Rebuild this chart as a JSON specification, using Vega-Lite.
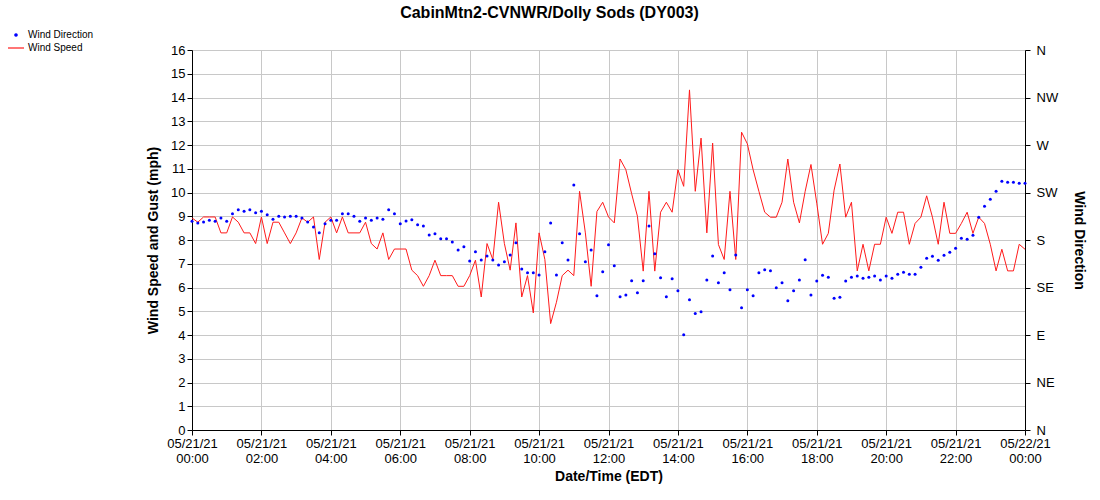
{
  "$schema": "https://vega.github.io/schema/vega-lite/v6.json",
  "autosize": "none",
  "width": 833,
  "height": 380,
  "padding": {"left": 192, "top": 50, "right": 75, "bottom": 70},
  "background": "white",
  "title": {
    "text": "CabinMtn2-CVNWR/Dolly Sods (DY003)",
    "font": "Liberation Sans",
    "fontSize": 16,
    "fontWeight": "bold",
    "color": "black",
    "anchor": "middle",
    "dx": -59,
    "offset": 9
  },
  "config": {
    "view": {"stroke": null},
    "font": "Liberation Sans",
    "axis": {
      "labelFont": "Liberation Sans",
      "labelFontSize": 13,
      "labelColor": "black",
      "titleFont": "Liberation Sans",
      "titleFontSize": 14,
      "titleFontWeight": "bold",
      "titleColor": "black",
      "domainColor": "black",
      "tickColor": "black",
      "gridColor": "#c8c8c8",
      "gridWidth": 1
    }
  },
  "data": {
    "values": [
      {"t": "2021-05-21T00:00Z", "speed": 8.93, "dir": 197.8},
      {"t": "2021-05-21T00:10Z", "speed": 8.75, "dir": 196.2},
      {"t": "2021-05-21T00:20Z", "speed": 8.97, "dir": 197.1},
      {"t": "2021-05-21T00:30Z", "speed": 8.97, "dir": 198.7},
      {"t": "2021-05-21T00:40Z", "speed": 8.97, "dir": 197.8},
      {"t": "2021-05-21T00:50Z", "speed": 8.3, "dir": 200.9},
      {"t": "2021-05-21T01:00Z", "speed": 8.3, "dir": 197.8},
      {"t": "2021-05-21T01:10Z", "speed": 8.97, "dir": 204.8},
      {"t": "2021-05-21T01:20Z", "speed": 8.75, "dir": 208.6},
      {"t": "2021-05-21T01:30Z", "speed": 8.3, "dir": 207.2},
      {"t": "2021-05-21T01:40Z", "speed": 8.3, "dir": 208.6},
      {"t": "2021-05-21T01:50Z", "speed": 7.85, "dir": 205.7},
      {"t": "2021-05-21T02:00Z", "speed": 8.97, "dir": 207.2},
      {"t": "2021-05-21T02:10Z", "speed": 7.85, "dir": 203.9},
      {"t": "2021-05-21T02:20Z", "speed": 8.75, "dir": 199.6},
      {"t": "2021-05-21T02:30Z", "speed": 8.75, "dir": 202.5},
      {"t": "2021-05-21T02:40Z", "speed": 8.3, "dir": 201.8},
      {"t": "2021-05-21T02:50Z", "speed": 7.85, "dir": 202.5},
      {"t": "2021-05-21T03:00Z", "speed": 8.3, "dir": 202.5},
      {"t": "2021-05-21T03:10Z", "speed": 8.93, "dir": 200.9},
      {"t": "2021-05-21T03:20Z", "speed": 8.75, "dir": 197.1},
      {"t": "2021-05-21T03:30Z", "speed": 8.97, "dir": 192.4},
      {"t": "2021-05-21T03:40Z", "speed": 7.18, "dir": 186.8},
      {"t": "2021-05-21T03:50Z", "speed": 8.75, "dir": 195.5},
      {"t": "2021-05-21T04:00Z", "speed": 8.97, "dir": 198.7},
      {"t": "2021-05-21T04:10Z", "speed": 8.3, "dir": 198.7},
      {"t": "2021-05-21T04:20Z", "speed": 8.97, "dir": 204.8},
      {"t": "2021-05-21T04:30Z", "speed": 8.3, "dir": 204.8},
      {"t": "2021-05-21T04:40Z", "speed": 8.3, "dir": 202.5},
      {"t": "2021-05-21T04:50Z", "speed": 8.3, "dir": 197.8},
      {"t": "2021-05-21T05:00Z", "speed": 8.75, "dir": 200.9},
      {"t": "2021-05-21T05:10Z", "speed": 7.85, "dir": 198.7},
      {"t": "2021-05-21T05:20Z", "speed": 7.62, "dir": 200.9},
      {"t": "2021-05-21T05:30Z", "speed": 8.3, "dir": 199.6},
      {"t": "2021-05-21T05:40Z", "speed": 7.18, "dir": 208.6},
      {"t": "2021-05-21T05:50Z", "speed": 7.62, "dir": 204.8},
      {"t": "2021-05-21T06:00Z", "speed": 7.62, "dir": 195.5},
      {"t": "2021-05-21T06:10Z", "speed": 7.62, "dir": 198.0},
      {"t": "2021-05-21T06:20Z", "speed": 6.73, "dir": 199.1},
      {"t": "2021-05-21T06:30Z", "speed": 6.5, "dir": 194.4},
      {"t": "2021-05-21T06:40Z", "speed": 6.05, "dir": 193.3},
      {"t": "2021-05-21T06:50Z", "speed": 6.5, "dir": 184.7},
      {"t": "2021-05-21T07:00Z", "speed": 7.15, "dir": 185.9},
      {"t": "2021-05-21T07:10Z", "speed": 6.5, "dir": 181.1},
      {"t": "2021-05-21T07:20Z", "speed": 6.5, "dir": 181.1},
      {"t": "2021-05-21T07:30Z", "speed": 6.5, "dir": 178.2},
      {"t": "2021-05-21T07:40Z", "speed": 6.05, "dir": 170.6},
      {"t": "2021-05-21T07:50Z", "speed": 6.05, "dir": 173.5},
      {"t": "2021-05-21T08:00Z", "speed": 6.5, "dir": 160.2},
      {"t": "2021-05-21T08:10Z", "speed": 7.15, "dir": 168.8},
      {"t": "2021-05-21T08:20Z", "speed": 5.6, "dir": 161.1},
      {"t": "2021-05-21T08:30Z", "speed": 7.85, "dir": 164.9},
      {"t": "2021-05-21T08:40Z", "speed": 7.18, "dir": 161.1},
      {"t": "2021-05-21T08:50Z", "speed": 9.59, "dir": 156.4},
      {"t": "2021-05-21T09:00Z", "speed": 7.85, "dir": 159.3},
      {"t": "2021-05-21T09:10Z", "speed": 6.73, "dir": 165.8},
      {"t": "2021-05-21T09:20Z", "speed": 8.72, "dir": 177.3},
      {"t": "2021-05-21T09:30Z", "speed": 5.6, "dir": 152.6},
      {"t": "2021-05-21T09:40Z", "speed": 6.5, "dir": 149.0},
      {"t": "2021-05-21T09:50Z", "speed": 4.93, "dir": 149.0},
      {"t": "2021-05-21T10:00Z", "speed": 8.3, "dir": 146.9},
      {"t": "2021-05-21T10:10Z", "speed": 7.18, "dir": 168.8},
      {"t": "2021-05-21T10:20Z", "speed": 4.48, "dir": 196.2},
      {"t": "2021-05-21T10:30Z", "speed": 5.38, "dir": 146.9},
      {"t": "2021-05-21T10:40Z", "speed": 6.5, "dir": 177.3},
      {"t": "2021-05-21T10:50Z", "speed": 6.73, "dir": 161.1},
      {"t": "2021-05-21T11:00Z", "speed": 6.5, "dir": 232.2},
      {"t": "2021-05-21T11:10Z", "speed": 10.05, "dir": 185.9},
      {"t": "2021-05-21T11:20Z", "speed": 8.3, "dir": 159.3},
      {"t": "2021-05-21T11:30Z", "speed": 6.05, "dir": 170.6},
      {"t": "2021-05-21T11:40Z", "speed": 9.2, "dir": 127.1},
      {"t": "2021-05-21T11:50Z", "speed": 9.59, "dir": 149.9},
      {"t": "2021-05-21T12:00Z", "speed": 8.97, "dir": 175.5},
      {"t": "2021-05-21T12:10Z", "speed": 8.72, "dir": 155.5},
      {"t": "2021-05-21T12:20Z", "speed": 11.41, "dir": 126.2},
      {"t": "2021-05-21T12:30Z", "speed": 10.96, "dir": 128.0},
      {"t": "2021-05-21T12:40Z", "speed": 9.95, "dir": 141.3},
      {"t": "2021-05-21T12:50Z", "speed": 9.0, "dir": 130.1},
      {"t": "2021-05-21T13:00Z", "speed": 6.69, "dir": 141.3},
      {"t": "2021-05-21T13:10Z", "speed": 10.05, "dir": 193.3},
      {"t": "2021-05-21T13:20Z", "speed": 6.69, "dir": 167.0},
      {"t": "2021-05-21T13:30Z", "speed": 9.17, "dir": 144.2},
      {"t": "2021-05-21T13:40Z", "speed": 9.59, "dir": 126.2},
      {"t": "2021-05-21T13:50Z", "speed": 9.17, "dir": 143.3},
      {"t": "2021-05-21T14:00Z", "speed": 10.96, "dir": 131.9},
      {"t": "2021-05-21T14:10Z", "speed": 10.26, "dir": 90.2},
      {"t": "2021-05-21T14:20Z", "speed": 14.32, "dir": 123.3},
      {"t": "2021-05-21T14:30Z", "speed": 10.05, "dir": 110.3},
      {"t": "2021-05-21T14:40Z", "speed": 12.29, "dir": 112.1},
      {"t": "2021-05-21T14:50Z", "speed": 8.3, "dir": 142.2},
      {"t": "2021-05-21T15:00Z", "speed": 12.08, "dir": 164.9},
      {"t": "2021-05-21T15:10Z", "speed": 7.81, "dir": 139.5},
      {"t": "2021-05-21T15:20Z", "speed": 7.18, "dir": 149.0},
      {"t": "2021-05-21T15:30Z", "speed": 10.05, "dir": 132.8},
      {"t": "2021-05-21T15:40Z", "speed": 7.18, "dir": 165.8},
      {"t": "2021-05-21T15:50Z", "speed": 12.54, "dir": 115.9},
      {"t": "2021-05-21T16:00Z", "speed": 12.05, "dir": 132.8},
      {"t": "2021-05-21T16:10Z", "speed": 10.96, "dir": 127.1},
      {"t": "2021-05-21T16:20Z", "speed": 10.05, "dir": 149.0},
      {"t": "2021-05-21T16:30Z", "speed": 9.17, "dir": 151.9},
      {"t": "2021-05-21T16:40Z", "speed": 8.96, "dir": 150.8},
      {"t": "2021-05-21T16:50Z", "speed": 8.96, "dir": 134.8},
      {"t": "2021-05-21T17:00Z", "speed": 9.59, "dir": 139.5},
      {"t": "2021-05-21T17:10Z", "speed": 11.41, "dir": 122.4},
      {"t": "2021-05-21T17:20Z", "speed": 9.59, "dir": 131.9},
      {"t": "2021-05-21T17:30Z", "speed": 8.72, "dir": 142.2},
      {"t": "2021-05-21T17:40Z", "speed": 10.05, "dir": 161.3},
      {"t": "2021-05-21T17:50Z", "speed": 11.18, "dir": 128.0},
      {"t": "2021-05-21T18:00Z", "speed": 9.55, "dir": 141.1},
      {"t": "2021-05-21T18:10Z", "speed": 7.82, "dir": 146.7},
      {"t": "2021-05-21T18:20Z", "speed": 8.28, "dir": 144.7},
      {"t": "2021-05-21T18:30Z", "speed": 10.1, "dir": 124.9},
      {"t": "2021-05-21T18:40Z", "speed": 11.2, "dir": 125.8},
      {"t": "2021-05-21T18:50Z", "speed": 8.96, "dir": 141.1},
      {"t": "2021-05-21T19:00Z", "speed": 9.59, "dir": 144.7},
      {"t": "2021-05-21T19:10Z", "speed": 6.7, "dir": 145.8},
      {"t": "2021-05-21T19:20Z", "speed": 7.82, "dir": 143.8},
      {"t": "2021-05-21T19:30Z", "speed": 6.7, "dir": 144.7},
      {"t": "2021-05-21T19:40Z", "speed": 7.82, "dir": 145.8},
      {"t": "2021-05-21T19:50Z", "speed": 7.82, "dir": 142.0},
      {"t": "2021-05-21T20:00Z", "speed": 8.96, "dir": 145.8},
      {"t": "2021-05-21T20:10Z", "speed": 8.28, "dir": 143.8},
      {"t": "2021-05-21T20:20Z", "speed": 9.17, "dir": 147.6},
      {"t": "2021-05-21T20:30Z", "speed": 9.17, "dir": 149.4},
      {"t": "2021-05-21T20:40Z", "speed": 7.82, "dir": 147.6},
      {"t": "2021-05-21T20:50Z", "speed": 8.7, "dir": 147.6},
      {"t": "2021-05-21T21:00Z", "speed": 8.96, "dir": 154.1},
      {"t": "2021-05-21T21:10Z", "speed": 9.86, "dir": 162.7},
      {"t": "2021-05-21T21:20Z", "speed": 8.96, "dir": 164.7},
      {"t": "2021-05-21T21:30Z", "speed": 7.82, "dir": 160.9},
      {"t": "2021-05-21T21:40Z", "speed": 9.59, "dir": 165.6},
      {"t": "2021-05-21T21:50Z", "speed": 8.28, "dir": 168.5},
      {"t": "2021-05-21T22:00Z", "speed": 8.28, "dir": 172.1},
      {"t": "2021-05-21T22:10Z", "speed": 8.7, "dir": 181.6},
      {"t": "2021-05-21T22:20Z", "speed": 9.17, "dir": 180.7},
      {"t": "2021-05-21T22:30Z", "speed": 8.28, "dir": 184.5},
      {"t": "2021-05-21T22:40Z", "speed": 8.96, "dir": 201.6},
      {"t": "2021-05-21T22:50Z", "speed": 8.7, "dir": 212.0},
      {"t": "2021-05-21T23:00Z", "speed": 7.82, "dir": 218.7},
      {"t": "2021-05-21T23:10Z", "speed": 6.7, "dir": 226.1},
      {"t": "2021-05-21T23:20Z", "speed": 7.61, "dir": 235.6},
      {"t": "2021-05-21T23:30Z", "speed": 6.7, "dir": 234.7},
      {"t": "2021-05-21T23:40Z", "speed": 6.7, "dir": 234.7},
      {"t": "2021-05-21T23:50Z", "speed": 7.82, "dir": 233.8},
      {"t": "2021-05-22T00:00Z", "speed": 7.61, "dir": 233.8}
    ]
  },
  "encoding": {
    "x": {
      "field": "t",
      "type": "temporal",
      "title": "Date/Time (EDT)",
      "scale": {
        "type": "utc",
        "domain": [
          {"year": 2021, "month": 5, "date": 21, "hours": 0, "utc": true},
          {"year": 2021, "month": 5, "date": 22, "hours": 0, "utc": true}
        ]
      },
      "axis": {
        "values": [
          {"year": 2021, "month": 5, "date": 21, "hours": 0, "utc": true},
          {"year": 2021, "month": 5, "date": 21, "hours": 2, "utc": true},
          {"year": 2021, "month": 5, "date": 21, "hours": 4, "utc": true},
          {"year": 2021, "month": 5, "date": 21, "hours": 6, "utc": true},
          {"year": 2021, "month": 5, "date": 21, "hours": 8, "utc": true},
          {"year": 2021, "month": 5, "date": 21, "hours": 10, "utc": true},
          {"year": 2021, "month": 5, "date": 21, "hours": 12, "utc": true},
          {"year": 2021, "month": 5, "date": 21, "hours": 14, "utc": true},
          {"year": 2021, "month": 5, "date": 21, "hours": 16, "utc": true},
          {"year": 2021, "month": 5, "date": 21, "hours": 18, "utc": true},
          {"year": 2021, "month": 5, "date": 21, "hours": 20, "utc": true},
          {"year": 2021, "month": 5, "date": 21, "hours": 22, "utc": true},
          {"year": 2021, "month": 5, "date": 22, "hours": 0, "utc": true}
        ],
        "labelExpr": "[utcFormat(datum.value, '%m/%d/%y'), utcFormat(datum.value, '%H:%M')]",
        "labelOverlap": false,
        "labelFlush": false,
        "grid": true,
        "tickSize": 5,
        "titlePadding": 4
      }
    }
  },
  "layer": [
    {
      "mark": {"type": "line", "strokeWidth": 1, "interpolate": "linear"},
      "encoding": {
        "y": {
          "field": "speed",
          "type": "quantitative",
          "title": "Wind Speed and Gust (mph)",
          "scale": {"domain": [0, 16], "nice": false},
          "axis": {
            "orient": "left",
            "values": [0, 1, 2, 3, 4, 5, 6, 7, 8, 9, 10, 11, 12, 13, 14, 15, 16],
            "grid": true,
            "tickSize": 5,
            "titlePadding": 10
          }
        },
        "color": {
          "datum": "Wind Speed",
          "type": "nominal",
          "scale": {"domain": ["Wind Direction", "Wind Speed"], "range": ["#0000ff", "#ff1a1a"]},
          "legend": {
            "title": null,
            "orient": "none",
            "legendX": -181,
            "legendY": -20,
            "labelFont": "Liberation Sans",
            "labelFontSize": 10,
            "labelColor": "black",
            "labelOffset": 7,
            "symbolSize": 100,
            "rowPadding": 3,
            "encode": {
              "symbols": {
                "update": {
                  "shape": {"signal": "datum.label == 'Wind Speed' ? 'stroke' : 'circle'"},
                  "size": {"signal": "datum.label == 'Wind Speed' ? 256 : 6"},
                  "fill": {"signal": "datum.label == 'Wind Speed' ? 'transparent' : '#0000ff'"},
                  "stroke": {"signal": "datum.label == 'Wind Speed' ? '#ff1a1a' : 'transparent'"},
                  "strokeWidth": {"value": 1.2}
                }
              }
            }
          }
        }
      }
    },
    {
      "mark": {"type": "point", "shape": "circle", "filled": true, "size": 9, "opacity": 1},
      "encoding": {
        "y": {
          "field": "dir",
          "type": "quantitative",
          "title": "Wind Direction",
          "scale": {"domain": [0, 360], "nice": false},
          "axis": {
            "orient": "right",
            "values": [0, 45, 90, 135, 180, 225, 270, 315, 360],
            "labelExpr": "datum.value == 45 ? 'NE' : datum.value == 90 ? 'E' : datum.value == 135 ? 'SE' : datum.value == 180 ? 'S' : datum.value == 225 ? 'SW' : datum.value == 270 ? 'W' : datum.value == 315 ? 'NW' : 'N'",
            "grid": false,
            "tickSize": 5,
            "labelPadding": 6,
            "titlePadding": 14
          }
        },
        "color": {"datum": "Wind Direction", "type": "nominal"}
      }
    }
  ],
  "resolve": {"scale": {"y": "independent"}}
}
